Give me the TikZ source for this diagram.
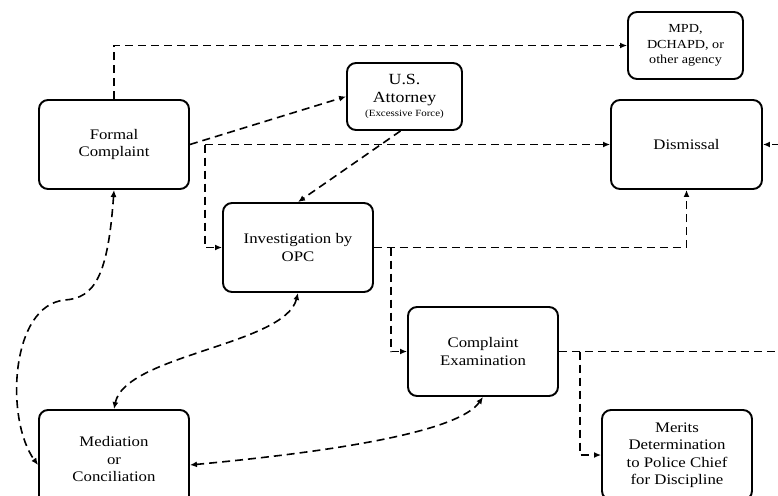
\documentclass[tikz,border=0pt]{standalone}
\usepackage{fontspec}
\setmainfont{Liberation Serif}[FakeStretch=1.15]
\usetikzlibrary{arrows.meta}
\begin{document}
\begin{tikzpicture}[x=1pt,y=-1pt,
  box/.style={draw, line width=1.9pt, rounded corners=9pt, align=center, inner sep=1pt,
    font=\fontsize{14.6}{17.5}\selectfont},
  da/.style={line width=1.6pt, dash pattern=on 8pt off 5pt, -{Latex[length=7pt,width=6pt]}},
  dd/.style={line width=1.6pt, dash pattern=on 8pt off 5pt, {Latex[length=7pt,width=6pt]}-{Latex[length=7pt,width=6pt]}}]
\useasboundingbox (0,0) rectangle (778,495);

\node[box, minimum width=150pt, minimum height=89pt] (FC) at (114,144.5) {Formal\\Complaint};
\node[box, minimum width=115pt, minimum height=67pt, font=\fontsize{15.5}{17.5}\selectfont] (USA) at (404.5,96.5)
  {U.S.\\Attorney\\[-3pt]{\fontsize{9.5}{10}\selectfont (Excessive Force)}};
\node[box, minimum width=115pt, minimum height=67pt, font=\fontsize{12.3}{15.5}\selectfont] (MPD) at (685.5,45.5)
  {MPD,\\DCHAPD, or\\other agency};
\node[box, minimum width=151pt, minimum height=89pt] (Dis) at (686.5,144.5) {Dismissal};
\node[box, minimum width=150pt, minimum height=89pt] (Inv) at (298,247.5) {Investigation by\\OPC};
\node[box, minimum width=150pt, minimum height=89pt] (CE) at (483,351.5) {Complaint\\Examination};
\node[box, minimum width=150pt, minimum height=90pt] (Mer) at (677,455) {Merits\\Determination\\to Police Chief\\for Discipline};
\node[box, minimum width=150pt, minimum height=98pt] (Med) at (114,459) {Mediation\\or\\Conciliation};

\coordinate (j1) at (205,144.5);
\coordinate (j2) at (391,247.5);
\coordinate (j3) at (580,351.5);
\coordinate (r1) at (800,351.5);

% straight connectors
\draw[da] (FC.north) |- (MPD.west);
\draw[da] (FC.east) -- (USA.west);
\draw[da] ([xshift=-4pt]USA.south) -- (Inv.north);
\draw[da] (j1) -- (Dis.west);
\draw[da] (j1) |- (Inv.west);
\draw[da] (Inv.east) -| (Dis.south);
\draw[da] (j2) |- (CE.west);
\draw[da] (CE.east) -- (r1) |- (Dis.east);
\draw[da] (j3) |- (Mer.west);

% curved connectors
\draw[dd] (Inv.south) .. controls (285,345) and (125,355) .. (Med.north);
\draw[dd] (FC.south) .. controls (108,275) and (95,298) .. (65,300)
  .. controls (10,305) and (5,420) .. ([yshift=-6pt]Med.west);
\draw[dd] ([yshift=-6pt]Med.east) .. controls (350,450) and (460,430) .. (CE.south);
\end{tikzpicture}
\end{document}
